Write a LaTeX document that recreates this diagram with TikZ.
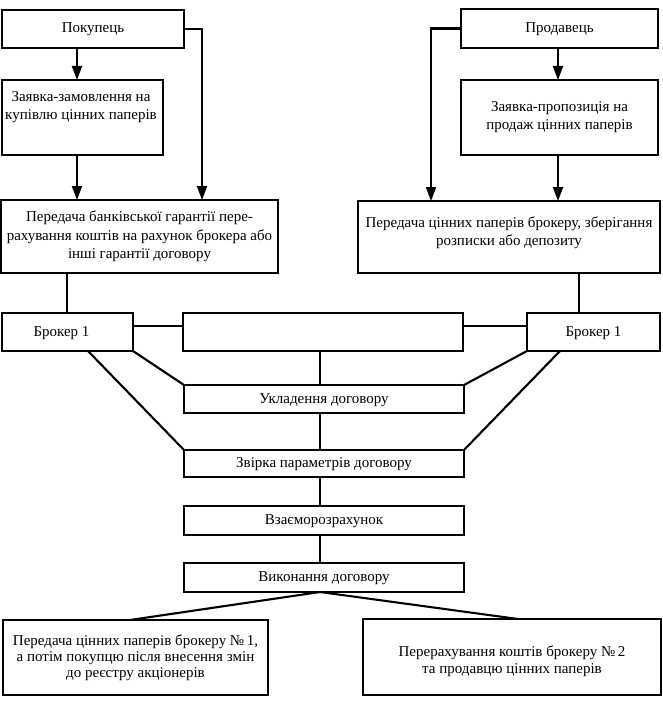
\documentclass[tikz,border=0pt]{standalone}
\usepackage{fontspec}
\setmainfont{Liberation Serif}
\usetikzlibrary{arrows.meta}
\begin{document}
\begin{tikzpicture}[x=1pt,y=-1pt,
  box/.style={draw, line width=2.6pt, inner sep=0pt, outer sep=0pt, align=center, font=\fontsize{15}{18.5}\selectfont},
  one/.style={text height=8pt, text depth=0pt},
  txt/.style={inner sep=0pt, align=center, font=\fontsize{15}{18.5}\selectfont},
  conn/.style={line width=2.1pt},
  arr/.style={line width=2.1pt, -{Triangle[length=14pt,width=10pt]}}]
\useasboundingbox (0,0) rectangle (662,701);
% top row
\node[box, one, minimum width=182, minimum height=38] (buyer) at (93,29) {Покупець};
\node[box, one, minimum width=197, minimum height=39] (seller) at (559.5,28.5) {Продавець};
\node[box, minimum width=161, minimum height=75] (zz) at (82.5,117.5) {};
\node[txt, anchor=north] (zzt) at (81,91) {Заявка-замовлення на\\купівлю цінних паперів};
\node[box, minimum width=197, minimum height=75] (zp) at (559.5,117.5) {};
\node[txt] (zpt) at (559.5,117) {Заявка-пропозиція на\\продаж цінних паперів};
\node[box, minimum width=277, minimum height=73] (lp) at (139.5,236.5) {Передача банківської гарантії пере-\\рахування коштів на рахунок брокера або\\інші гарантії договору};
\node[box, minimum width=302, minimum height=72] (rp) at (509,237) {};
\node[txt] (rpt) at (509,232.5) {Передача цінних паперів брокеру, зберігання\\розписки або депозиту};
% brokers and middle
\node[box, one, minimum width=131, minimum height=38] (lb) at (67.5,332) {Брокер 1\hspace{12pt}};
\node[box, minimum width=280, minimum height=38] (mid) at (323,332) {};
\node[box, one, minimum width=133, minimum height=38] (rb) at (593.5,332) {Брокер 1};
% central chain
\node[box, one, minimum width=280, minimum height=28] (uk) at (324,399) {Укладення договору};
\node[box, one, minimum width=280, minimum height=27] (zv) at (324,463.5) {Звірка параметрів договору};
\node[box, one, minimum width=280, minimum height=29] (vz) at (324,520.5) {Взаєморозрахунок};
\node[box, one, minimum width=280, minimum height=29] (vk) at (324,577.5) {Виконання договору};
% bottom
\node[box, minimum width=265, minimum height=75, font=\fontsize{15}{16}\selectfont] (lbot) at (135.5,657.5) {Передача цінних паперів брокеру №\,1,\\а потім покупцю після внесення змін\\до реєстру акціонерів};
\node[box, minimum width=298, minimum height=76] (rbot) at (512,657) {};
\node[txt, font=\fontsize{15}{16.5}\selectfont] (rbott) at (512,661) {Перерахування коштів брокеру №\,2\\та продавцю цінних паперів};
% helper coordinates
\coordinate (xa) at (77,0);
\coordinate (xb) at (202,0);
\coordinate (xc) at (431,0);
\coordinate (xd) at (558,0);
\coordinate (xe) at (579,0);
\coordinate (xf) at (67,0);
\coordinate (xm) at (320,0);
\coordinate (yl) at (0,326);
\coordinate (xl2) at (88,0);
\coordinate (xr2) at (560,0);
\coordinate (xbl) at (130,0);
\coordinate (xbr) at (518,0);
% connectors
\draw[arr] (buyer.south -| xa) -- (zz.north -| xa);
\draw[arr] (zz.south -| xa) -- (lp.north -| xa);
\draw[arr] (buyer.east) -| (xb |- lp.north);
\draw[arr] (seller.south -| xd) -- (zp.north -| xd);
\draw[arr] (zp.south -| xd) -- (rp.north -| xd);
\draw[arr] (seller.west) -| (xc |- rp.north);
\draw[conn] (lp.south -| xf) -- (lb.north -| xf);
\draw[conn] (rp.south -| xe) -- (rb.north -| xe);
\draw[conn] (lb.east |- yl) -- (mid.west |- yl);
\draw[conn] (mid.east |- yl) -- (rb.west |- yl);
\draw[conn] (mid.south -| xm) -- (uk.north -| xm);
\draw[conn] (uk.south -| xm) -- (zv.north -| xm);
\draw[conn] (zv.south -| xm) -- (vz.north -| xm);
\draw[conn] (vz.south -| xm) -- (vk.north -| xm);
\draw[conn] (lb.south east) -- (uk.north west);
\draw[conn] (lb.south -| xl2) -- (zv.north west);
\draw[conn] (rb.south west) -- (uk.north east);
\draw[conn] (rb.south -| xr2) -- (zv.north east);
\draw[conn] (vk.south -| xm) -- (lbot.north -| xbl);
\draw[conn] (vk.south -| xm) -- (rbot.north -| xbr);
\end{tikzpicture}
\end{document}
